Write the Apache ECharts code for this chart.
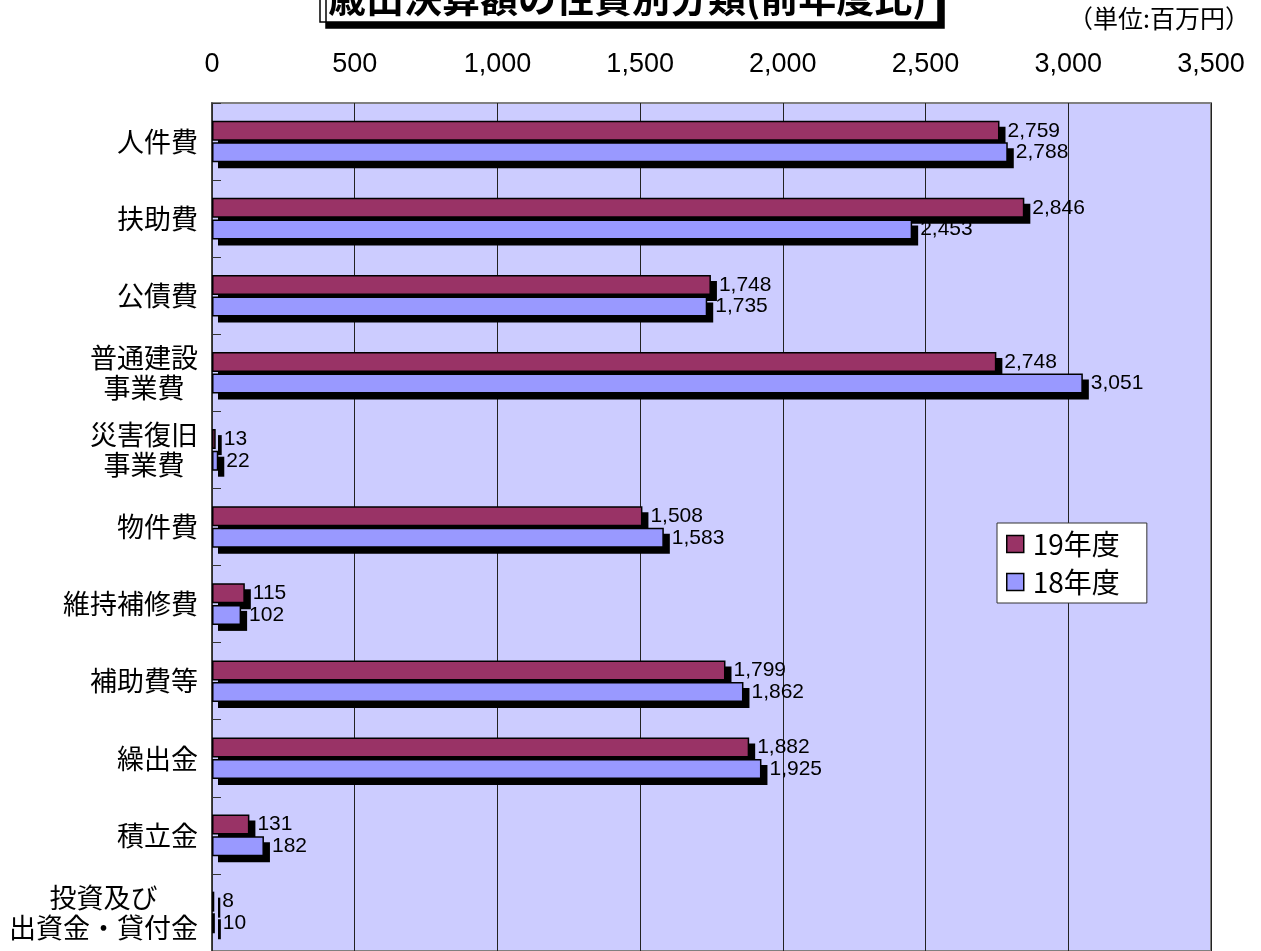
<!DOCTYPE html>
<html>
<head>
<meta charset="utf-8">
<script src="https://cdn.jsdelivr.net/npm/echarts@6/dist/echarts.min.js"></script>
<style>
  html, body { margin: 0; padding: 0; background: #fff; }
  #main { width: 1261px; height: 951px; }
</style>
</head>
<body>
<div id="main"></div>
<script>
// 項目名
const categories = ['人件費', '扶助費', '公債費', '普通建設\n事業費', '災害復旧\n事業費', '物件費',
  '維持補修費', '補助費等', '繰出金', '積立金', '投資及び\n出資金・貸付金']
// 19年度 (百万円)
const fy19 = [2759, 2846, 1748, 2748, 13, 1508, 115, 1799, 1882, 131, 8]
// 18年度 (百万円)
const fy18 = [2788, 2453, 1735, 3051, 22, 1583, 102, 1862, 1925, 182, 10]
const seriesNames = ['19年度', '18年度']
const xTicks = { min: 0, max: 3500, interval: 500 }

const FONT = '"Liberation Sans", "Noto Sans CJK JP", sans-serif'
const JP = '"Noto Sans CJK JP", sans-serif'
const catSize = 27
const BAR_W = 20
const BAR_GAP = 1.6 // px (barGap 8%)
const SHADOW = 6

const fmt = v => String(v).replace(/\B(?=(\d{3})+(?!\d))/g, ',')

// 複数行の項目名は中央揃え
const catFormatter = function (val) {
  const lines = val.split('\n')
  if (lines.length === 1) return '{s|' + val + '}'
  const w = Math.max(...lines.map(l => l.length)) * catSize
  return lines.map(l => '{m' + w + '|' + l + '}').join('\n')
}
const rich = { s: { fontSize: catSize, fontFamily: JP, color: '#000' } }
categories.forEach(c => {
  const lines = c.split('\n')
  if (lines.length > 1) {
    const w = Math.max(...lines.map(l => l.length)) * catSize
    rich['m' + w] = { width: w, align: 'center', fontSize: catSize, fontFamily: JP, color: '#000', lineHeight: 30 }
  }
})

// 棒の影 (黒, 右下にずらす)
const shadowSeries = (data, idx) => ({
  type: 'custom',
  z: 1,
  silent: true,
  data: data.map((v, i) => [v, i]),
  encode: { x: 0, y: 1 },
  renderItem: function (params, api) {
    const c = api.value(1)
    const p0 = api.coord([0, c])
    const p1 = api.coord([api.value(0), c])
    const yTop = p0[1] - (BAR_W + BAR_GAP / 2) + idx * (BAR_W + BAR_GAP)
    return {
      type: 'rect',
      shape: { x: p0[0] + SHADOW, y: yTop + SHADOW, width: p1[0] - p0[0], height: BAR_W },
      style: { fill: '#000' }
    }
  }
})

const barSeries = (name, data, color) => ({
  name: name,
  type: 'bar',
  z: 2,
  data: data,
  barWidth: BAR_W,
  barGap: '8%',
  itemStyle: { color: color, borderColor: '#000', borderWidth: 1.5 },
  label: {
    show: true,
    position: 'right',
    distance: SHADOW + 2,
    fontSize: 21,
    fontFamily: FONT,
    color: '#000',
    formatter: p => fmt(p.value)
  }
})

const chart = echarts.init(document.getElementById('main'))
chart.setOption({
  backgroundColor: '#fff',
  animation: false,
  title: [{
    text: '歳出決算額の性質別分類(前年度比)',
    left: 320,
    top: -26,
    padding: [2, 12, 2, 8],
    backgroundColor: '#fff',
    borderColor: '#000',
    borderWidth: 1.5,
    shadowColor: '#000',
    shadowBlur: 0,
    shadowOffsetX: 6,
    shadowOffsetY: 6,
    textStyle: { fontSize: 38, fontWeight: 'bold', fontFamily: JP, color: '#000', lineHeight: 44 }
  }, {
    text: '（単位:百万円）',
    right: 6,
    top: 1,
    textStyle: { fontSize: 25, fontWeight: 'normal', fontFamily: JP, color: '#000' }
  }],
  legend: {
    orient: 'vertical',
    left: 997,
    top: 523,
    padding: [7, 27, 7, 9],
    itemGap: 10,
    itemWidth: 17,
    itemHeight: 17,
    icon: 'rect',
    backgroundColor: '#fff',
    borderColor: '#333',
    borderWidth: 1,
    itemStyle: { borderColor: '#000', borderWidth: 1.5 },
    textStyle: { fontSize: 28, fontFamily: JP, color: '#000', padding: [0, 0, 0, 4] },
    data: seriesNames
  },
  grid: {
    show: true,
    left: 212,
    right: 50,
    top: 103,
    height: 858,
    backgroundColor: '#CCCCFF',
    borderColor: '#808080',
    borderWidth: 2,
    containLabel: false
  },
  xAxis: {
    type: 'value',
    position: 'top',
    min: xTicks.min,
    max: xTicks.max,
    interval: xTicks.interval,
    axisLine: { show: false },
    axisTick: { show: false },
    axisLabel: { margin: 25, fontSize: 27, fontFamily: FONT, color: '#000', formatter: fmt },
    splitLine: { show: true, lineStyle: { color: '#222', width: 1 } }
  },
  yAxis: {
    type: 'category',
    inverse: true,
    data: categories,
    axisLine: { show: true, lineStyle: { color: '#333', width: 1.5 } },
    axisTick: { show: true, inside: true, length: 9, lineStyle: { color: '#333' } },
    axisLabel: { margin: 14, formatter: catFormatter, rich: rich }
  },
  series: [
    shadowSeries(fy19, 0),
    shadowSeries(fy18, 1),
    barSeries(seriesNames[0], fy19, '#993366'),
    barSeries(seriesNames[1], fy18, '#9999FF')
  ]
})
</script>
</body>
</html>
